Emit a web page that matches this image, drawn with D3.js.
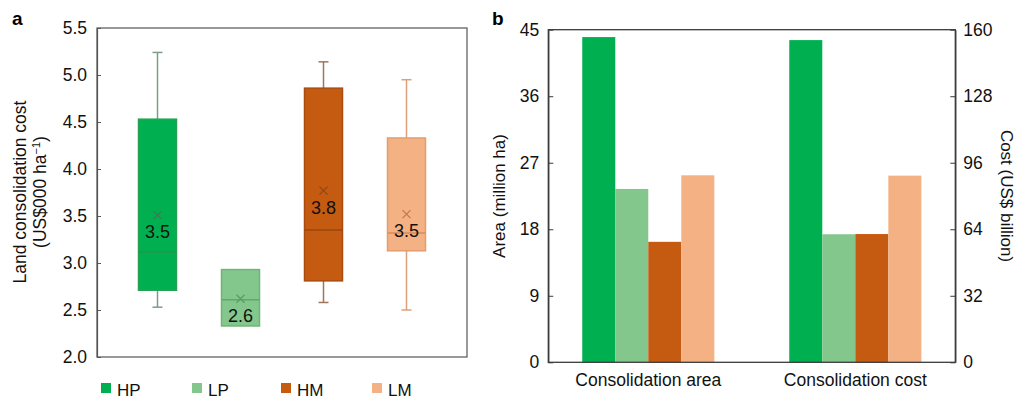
<!DOCTYPE html>
<html><head><meta charset="utf-8">
<script src="https://cdn.jsdelivr.net/npm/d3@7"></script>
<style>body{margin:0;background:#fff} text{font-family:"Liberation Sans",Arial,Helvetica,sans-serif}</style>
</head><body><svg id="c" width="1018" height="400"></svg>
<script>
// ---- Panel a data (box plots) ----
const groups = ["HP", "LP", "HM", "LM"];
const boxMin = [2.53, 2.33, 2.58, 2.50];
const boxQ1 = [2.71, 2.33, 2.81, 3.13];
const boxMedian = [3.12, 2.61, 3.35, 3.32];
const boxQ3 = [4.53, 2.93, 4.86, 4.33];
const boxMax = [5.24, 2.93, 5.14, 4.95];
const boxMean = [3.51, 2.62, 3.77, 3.52];
const meanLabels = ["3.5", "2.6", "3.8", "3.5"];
const costTicksA = [2.0, 2.5, 3.0, 3.5, 4.0, 4.5, 5.0, 5.5];

// ---- Panel b data (bars) ----
const barCategories = ["Consolidation area", "Consolidation cost"];
const areaValues = [44.0, 23.45, 16.3, 25.3];   // million ha
const costValues = [155, 61.6, 61.7, 89.8];     // US$ billion
const areaTicks = [0, 9, 18, 27, 36, 45];
const costTicks = [0, 32, 64, 96, 128, 160];

// ---- styles ----
const fills = ["#00b050", "#84c78d", "#c55a11", "#f4b183"];
const strokes = ["#27a055", "#6fb47a", "#a84c10", "#e39e70"];
const medians = ["#2f8f4f", "#5ea86a", "#99470f", "#d68c58"];
const whiskers = ["#7e9c86", "#7fb088", "#a0765a", "#dca07a"];
const meanCols = ["#3c7d50", "#5f9a68", "#8a4a1e", "#c07a4a"];

const svg = d3.select("#c");
const axisCol = "#3a3a3a";
const FF = "Liberation Sans, Arial, sans-serif";

// ================= Panel a =================
const aL = 97, aR = 467, aT = 28, aB = 357;
const ya = d3.scaleLinear().domain([2, 5.5]).range([aB, aT]);
const xa = d3.scalePoint().domain(groups).range([aL, aR]).padding(0.729);
const bw = 38;

svg.append("text").attr("x", 12).attr("y", 25).attr("font-size", 19).attr("font-weight", "bold").text("a");

const gA = svg.append("g");
gA.append("rect").attr("x", aL).attr("y", aT).attr("width", aR - aL).attr("height", aB - aT)
  .attr("fill", "none").attr("stroke", "#555").attr("stroke-width", 1.2);

const axA = gA.append("g").attr("transform", `translate(${aL},0)`)
  .call(d3.axisLeft(ya).tickValues(costTicksA).tickFormat(d3.format(".1f")).tickSizeInner(-4).tickSizeOuter(0).tickPadding(10));
axA.select(".domain").attr("stroke", "#555").attr("stroke-width", 1.2);
axA.selectAll(".tick line").attr("stroke", "#555");
axA.selectAll(".tick text").attr("font-size", 17.5).attr("fill", "#111").style("font-family", FF);

const tA = gA.append("text").attr("transform", `translate(26,192) rotate(-90)`).attr("text-anchor", "middle")
  .attr("font-size", 17.5).attr("fill", "#111");
tA.append("tspan").attr("x", 0).attr("dy", 0).text("Land consolidation cost");
tA.append("tspan").attr("x", 0).attr("dy", 20).text("(US$000 ha");
tA.append("tspan").attr("baseline-shift", "super").attr("font-size", 11).text("\u22121");
tA.append("tspan").text(")");

groups.forEach((g, i) => {
  const cx = xa(g);
  const gg = gA.append("g");
  gg.append("line").attr("x1", cx).attr("x2", cx).attr("y1", ya(boxMax[i])).attr("y2", ya(boxQ3[i]))
    .attr("stroke", whiskers[i]).attr("stroke-width", 1.5);
  gg.append("line").attr("x1", cx).attr("x2", cx).attr("y1", ya(boxQ1[i])).attr("y2", ya(boxMin[i]))
    .attr("stroke", whiskers[i]).attr("stroke-width", 1.5);
  if (boxMax[i] > boxQ3[i]) gg.append("line").attr("x1", cx - 5).attr("x2", cx + 5).attr("y1", ya(boxMax[i])).attr("y2", ya(boxMax[i]))
    .attr("stroke", whiskers[i]).attr("stroke-width", 1.5);
  if (boxMin[i] < boxQ1[i]) gg.append("line").attr("x1", cx - 5).attr("x2", cx + 5).attr("y1", ya(boxMin[i])).attr("y2", ya(boxMin[i]))
    .attr("stroke", whiskers[i]).attr("stroke-width", 1.5);
  gg.append("rect").attr("x", cx - bw / 2).attr("y", ya(boxQ3[i])).attr("width", bw)
    .attr("height", ya(boxQ1[i]) - ya(boxQ3[i])).attr("fill", fills[i]).attr("stroke", strokes[i]).attr("stroke-width", 1.5);
  gg.append("line").attr("x1", cx - bw / 2).attr("x2", cx + bw / 2).attr("y1", ya(boxMedian[i])).attr("y2", ya(boxMedian[i]))
    .attr("stroke", medians[i]).attr("stroke-width", 1.5);
  const my = ya(boxMean[i]), s = 4;
  gg.append("path").attr("d", `M${cx - s},${my - s}L${cx + s},${my + s}M${cx - s},${my + s}L${cx + s},${my - s}`)
    .attr("stroke", meanCols[i]).attr("stroke-width", 1.3).attr("fill", "none");
  gg.append("text").attr("x", cx).attr("y", my + 23).attr("text-anchor", "middle").attr("font-size", 18)
    .attr("fill", "#111").text(meanLabels[i]);
});

const legX = [101, 192, 281, 372];
groups.forEach((g, i) => {
  svg.append("rect").attr("x", legX[i]).attr("y", 383).attr("width", 10).attr("height", 10).attr("fill", fills[i]);
  svg.append("text").attr("x", legX[i] + 16).attr("y", 395.5).attr("font-size", 17).attr("fill", "#111").text(g);
});

// ================= Panel b =================
const bL = 548.3, bR = 955.3, bT = 29.7, bB = 362.3;
const yArea = d3.scaleLinear().domain([0, 45]).range([bB, bT]);
const yCost = d3.scaleLinear().domain([0, 160]).range([bB, bT]);
const x0 = d3.scaleBand().domain(barCategories).range([bL, bR]).paddingInner(0.362).paddingOuter(0.164);
const x1 = d3.scaleBand().domain(groups).range([0, x0.bandwidth()]);

svg.append("text").attr("x", 492).attr("y", 25).attr("font-size", 19).attr("font-weight", "bold").text("b");

const gB = svg.append("g");
const series = [areaValues, costValues];
const scales = [yArea, yCost];
barCategories.forEach((c, ci) => {
  groups.forEach((g, i) => {
    const v = series[ci][i], ys = scales[ci];
    gB.append("rect").attr("x", x0(c) + x1(g)).attr("y", ys(v)).attr("width", x1.bandwidth())
      .attr("height", bB - ys(v)).attr("fill", fills[i]);
  });
});

gB.append("rect").attr("x", bL).attr("y", bT).attr("width", bR - bL).attr("height", bB - bT)
  .attr("fill", "none").attr("stroke", axisCol).attr("stroke-width", 1.3);

const axL = gB.append("g").attr("transform", `translate(${bL},0)`)
  .call(d3.axisLeft(yArea).tickValues(areaTicks).tickSizeInner(-5).tickSizeOuter(0).tickPadding(9));
const axR = gB.append("g").attr("transform", `translate(${bR},0)`)
  .call(d3.axisRight(yCost).tickValues(costTicks).tickSizeInner(-5).tickSizeOuter(0).tickPadding(8));
[axL, axR].forEach(ax => {
  ax.select(".domain").attr("stroke", axisCol).attr("stroke-width", 1.3);
  ax.selectAll(".tick line").attr("stroke", axisCol);
  ax.selectAll(".tick text").attr("font-size", 17.5).attr("fill", "#111").style("font-family", FF);
});

const axX = gB.append("g").attr("transform", `translate(0,${bB})`)
  .call(d3.axisBottom(x0).tickSize(0).tickPadding(11));
axX.select(".domain").remove();
axX.selectAll(".tick text").attr("font-size", 17.5).attr("fill", "#111").style("font-family", FF);

svg.append("text").attr("transform", `translate(505,196) rotate(-90)`).attr("text-anchor", "middle")
  .attr("font-size", 17).attr("fill", "#111").text("Area (million ha)");
svg.append("text").attr("transform", `translate(1001,196) rotate(90)`).attr("text-anchor", "middle")
  .attr("font-size", 17).attr("fill", "#111").text("Cost (US$ billion)");
</script></body></html>
